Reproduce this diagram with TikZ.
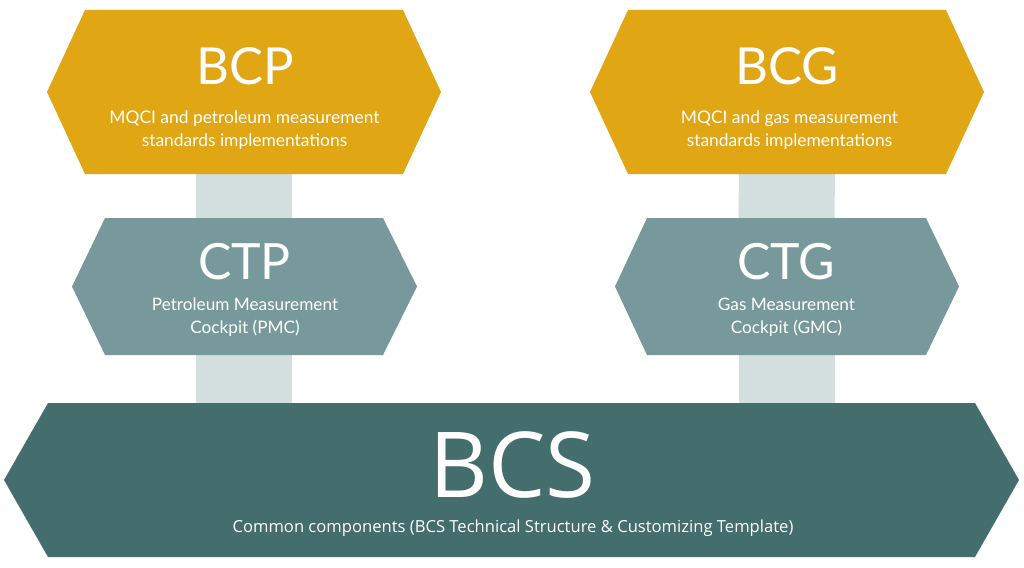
\documentclass[tikz,border=0pt]{standalone}
\usepackage{fontspec}
\setmainfont{Lato}
\newfontfamily\bcsfont{Open Sans}
\definecolor{gold}{HTML}{E0A614}
\definecolor{midteal}{HTML}{77999B}
\definecolor{darkteal}{HTML}{436E6D}
\definecolor{barcol}{HTML}{D3DFDF}
\begin{document}
\begin{tikzpicture}[x=1pt,y=-1pt,
  body/.style={rectangle,inner sep=0pt,outer sep=0pt,minimum width=#1},
  title/.style={anchor=base,inner sep=0pt,text=white,font=\fontsize{51}{51}\selectfont},
  sub/.style={anchor=base,inner sep=0pt,text=white,font=\fontsize{17.4}{17.4}\selectfont},
  barline/.style={barcol,line width=96pt}]
\useasboundingbox[fill=white] (0,0) rectangle (1024,567);
% shape bodies (empty)
\node[body=318,minimum height=164] (bcp) at (244,92) {};
\node[body=318,minimum height=164] (bcg) at (787,92) {};
\node[body=278,minimum height=137] (ctp) at (244,286.5) {};
\node[body=279,minimum height=137] (ctg) at (786.5,286.5) {};
\node[body=927,minimum height=154] (bcs) at (511.5,480) {};
% connectors
\draw[barline] (bcp.center) -- (ctp.center);
\draw[barline] (ctp.center) -- (ctp |- bcs.center);
\draw[barline] (bcg.center) -- (ctg.center);
\draw[barline] (ctg.center) -- (ctg |- bcs.center);
% hexagons
\fill[gold] (bcp.north west) -- (bcp.north east) -- ([xshift=38pt]bcp.east) -- (bcp.south east) -- (bcp.south west) -- ([xshift=-38pt]bcp.west) -- cycle;
\fill[gold] (bcg.north west) -- (bcg.north east) -- ([xshift=38pt]bcg.east) -- (bcg.south east) -- (bcg.south west) -- ([xshift=-38pt]bcg.west) -- cycle;
\fill[midteal] (ctp.north west) -- (ctp.north east) -- ([xshift=34pt]ctp.east) -- (ctp.south east) -- (ctp.south west) -- ([xshift=-33pt]ctp.west) -- cycle;
\fill[midteal] (ctg.north west) -- (ctg.north east) -- ([xshift=33pt]ctg.east) -- (ctg.south east) -- (ctg.south west) -- ([xshift=-32pt]ctg.west) -- cycle;
\fill[darkteal] (bcs.north west) -- (bcs.north east) -- ([xshift=44pt]bcs.east) -- (bcs.south east) -- (bcs.south west) -- ([xshift=-44pt]bcs.west) -- cycle;
% texts
\node[title] (bcpT) at (245,85) {BCP};
\node[sub] (bcpS1) at (244.5,124) {MQCI and petroleum measurement};
\node[sub] (bcpS2) at (244.5,146) {standards implementations};
\node[title] (bcgT) at (787,85) {BCG};
\node[sub] (bcgS1) at (789.5,124) {MQCI and gas measurement};
\node[sub] (bcgS2) at (789.5,146) {standards implementations};
\node[title,font=\fontsize{50}{50}\selectfont] (ctpT) at (244.5,279) {CTP};
\node[sub,font=\fontsize{17.2}{17.2}\selectfont] (ctpS1) at (245,310) {Petroleum Measurement};
\node[sub,font=\fontsize{17.2}{17.2}\selectfont] (ctpS2) at (245,333) {Cockpit (PMC)};
\node[title,font=\fontsize{50}{50}\selectfont] (ctgT) at (786.5,279) {CTG};
\node[sub,font=\fontsize{17.2}{17.2}\selectfont] (ctgS1) at (786.5,310) {Gas Measurement};
\node[sub,font=\fontsize{17.2}{17.2}\selectfont] (ctgS2) at (786.5,333) {Cockpit (GMC)};
\node[title,font=\bcsfont\fontsize{91}{91}\selectfont] (bcsT) at (512.5,497) {BCS};
\node[sub,font=\bcsfont\fontsize{16.6}{16.6}\selectfont] (bcsS) at (513,532) {Common components (BCS Technical Structure \& Customizing Template)};
\end{tikzpicture}
\end{document}
